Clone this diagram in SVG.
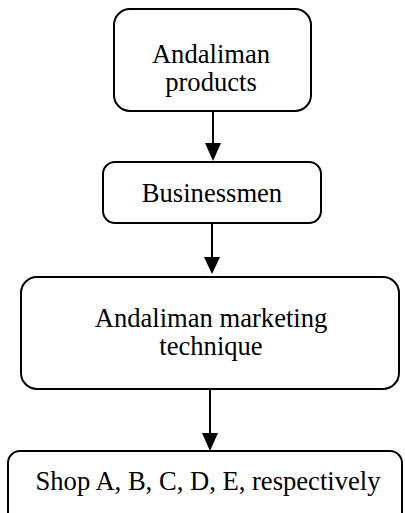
<svg xmlns="http://www.w3.org/2000/svg" width="405" height="513" viewBox="0 0 405 513">
<defs>
<style>
.box{fill:#fff;stroke:#000;stroke-width:2}
.t{font-family:"Liberation Serif","Times New Roman",serif;font-size:26.6px;fill:#000;text-anchor:middle}
.c{stroke:#000;stroke-width:2;fill:none}
.h{fill:#000}
</style>
</defs>
<rect width="405" height="513" fill="#fff"/>
<g id="connectors">
<path class="c" d="M213,111 V144"/><path class="h" d="M205,143 L221,143 L213,161 Z"/>
<path class="c" d="M212,223 V258"/><path class="h" d="M204,257 L220,257 L212,274 Z"/>
<path class="c" d="M210,389 V434"/><path class="h" d="M202,433 L218,433 L210,451 Z"/>
</g>
<g id="n1"><rect class="box" x="114" y="9" width="197" height="102" rx="16"/>
<text class="t" x="211" y="63">Andaliman</text><text class="t" x="211" y="91">products</text></g>
<g id="n2"><rect class="box" x="103" y="162" width="218" height="61" rx="12"/>
<text class="t" x="212" y="202">Businessmen</text></g>
<g id="n3"><rect class="box" x="21" y="277" width="378" height="112" rx="16"/>
<text class="t" x="211" y="327">Andaliman marketing</text><text class="t" x="211" y="355">technique</text></g>
<g id="n4"><rect class="box" x="8" y="451" width="394" height="80" rx="12"/>
<text class="t" x="208" y="490">Shop A, B, C, D, E, respectively</text></g>
</svg>
